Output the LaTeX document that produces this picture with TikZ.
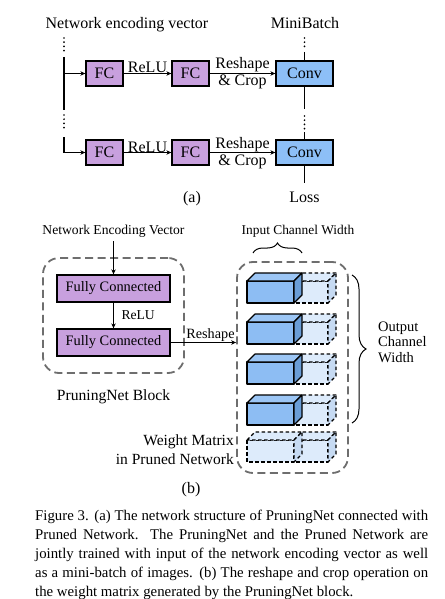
\documentclass[tikz,border=0pt]{standalone}
\usepackage{fontspec}
\setmainfont{Liberation Serif}
\usetikzlibrary{arrows.meta,decorations.pathreplacing}
\definecolor{fcpurple}{HTML}{C8A0DE}
\definecolor{convblue}{HTML}{8DBFF7}
\definecolor{cubefront}{HTML}{8DBDF3}
\definecolor{cubetop}{HTML}{9CC6F5}
\definecolor{cubeside}{HTML}{6A9DD6}
\definecolor{ghost}{HTML}{DDEBFB}
\definecolor{ghostside}{HTML}{C6DAF2}
\definecolor{dashgray}{HTML}{6E6E6E}
\newcommand\fs[1]{\fontsize{#1}{#1}\selectfont}
\newcommand\ghostpart[3]{% x-left, x-right, top y of front face
  \filldraw[ghostline, fill=ghost] (#1,#3) rectangle (#2,#3+22);
  \filldraw[ghostline, fill=ghost] (#1,#3) -- (#1+8,#3-8) -- (#2+8,#3-8) -- (#2,#3) -- cycle;
  \filldraw[ghostline, fill=ghostside] (#2,#3) -- (#2+8,#3-8) -- (#2+8,#3+14) -- (#2,#3+22) -- cycle;
}
\newcommand\solidpart[1]{%
  \filldraw[solidline, fill=cubefront] (247,#1) rectangle (294,#1+22);
  \filldraw[solidline, fill=cubetop] (247,#1) -- (255,#1-8) -- (302,#1-8) -- (294,#1) -- cycle;
  \filldraw[solidline, fill=cubeside] (294,#1) -- (302,#1-8) -- (302,#1+14) -- (294,#1+22) -- cycle;
}
\begin{document}
\begin{tikzpicture}[x=1pt,y=-1pt,
  lbl/.style={inner sep=0, font=\fs{16}},
  fcbox/.style={draw, line width=1.3, fill=fcpurple, minimum width=37, minimum height=25, inner sep=0, font=\fs{16}},
  convbox/.style={fcbox, fill=convblue, minimum width=57},
  fcwide/.style={fcbox, minimum width=113, minimum height=27, font=\fs{14.4}},
  arr/.style={line width=1.1, -{Stealth[length=5,width=4.5]}},
  conn/.style={line width=1.1},
  dots/.style={line width=1.9, line cap=round, dash pattern=on 0 off 4.2},
  block/.style={draw=dashgray, line width=1.8, dash pattern=on 8 off 4.5, rounded corners=16, minimum width=#1},
  block/.default=10,
  solidline/.style={line width=1.2, line join=round},
  ghostline/.style={line width=1.1, dash pattern=on 3.5 off 2.5, line join=round},
  brc/.style={decorate, line width=1, decoration={brace, amplitude=#1}}
]
\fill[white] (0,0) rectangle (444,599);
\useasboundingbox (0,0) rectangle (444,599);

% ---------------- (a) ----------------
\node[lbl, anchor=base] (nev) at (127,29) {Network encoding vector};
\node[lbl, anchor=base] (mb) at (305,29) {MiniBatch};
\node[fcbox] (fa1) at (104.5,73.5) {FC};
\node[fcbox] (fa2) at (190.5,73.5) {FC};
\node[convbox] (ca) at (304.5,73.5) {Conv};
\node[fcbox] (fb1) at (104.5,152.5) {FC};
\node[fcbox] (fb2) at (190.5,152.5) {FC};
\node[convbox] (cb) at (304.5,152.5) {Conv};
\node[lbl, anchor=base] (loss) at (304.5,202) {Loss};
\node[lbl, anchor=base] (la) at (192,202) {(a)};
\coordinate (spine) at (64,0);

\draw[dots] (64,38) -- (64,52);
\draw[conn] (64,57) -- (64,110);
\draw[arr] (fa1.west -| spine) -- (fa1.west);
\draw[dots] (64,115) -- (64,130);
\draw[arr] (64,137) |- (fb1.west);

\draw[dots] (304.5,38) -- (304.5,50);
\draw[conn] (304.5,52) -- (ca.north);
\draw[conn] (ca.south) -- (304.5,109);
\draw[dots] (304.5,116) -- (304.5,131);
\draw[conn] (304.5,132) -- (cb.north);
\draw[conn] (cb.south) -- (304.5,183);

\draw[arr] (fa1) -- (fa2) node[lbl, pos=.5, anchor=base, yshift=0.5] {ReLU};
\draw[arr] (fb1) -- (fb2) node[lbl, pos=.5, anchor=base, yshift=0.5] {ReLU};
\draw[arr] (fa2) -- (ca)
  node[lbl, pos=.5, anchor=base, yshift=4.5] {Reshape}
  node[lbl, pos=.5, anchor=base, yshift=-12.5] {\& Crop};
\draw[arr] (fb2) -- (cb)
  node[lbl, pos=.5, anchor=base, yshift=4.5] {Reshape}
  node[lbl, pos=.5, anchor=base, yshift=-12.5] {\& Crop};

% ---------------- (b) ----------------
\node[lbl, anchor=base, font=\fs{13.6}] (nevb) at (113.5,234) {Network Encoding Vector};
\node[fcwide] (p1) at (113.5,288.5) {Fully Connected};
\node[fcwide] (p2) at (113.5,342.5) {Fully Connected};
\node[block=141, minimum height=115] (pnb) at (113.5,315.5) {};
\node[lbl, anchor=base, font=\fs{15.6}] (pnl) at (113.5,400) {PruningNet Block};
\draw[arr] ([yshift=-4pt]nevb.south -| p1.north) -- (p1.north);
\draw[arr] (p1) -- (p2) node[lbl, pos=.5, anchor=west, xshift=7.5, font=\fs{13.6}] {ReLU};

\node[block=111, minimum height=211] (wm) at (292.5,367.5) {};
\draw[arr] (p2.east) -- (p2.east -| wm.west)
  node[lbl, pos=1, anchor=base east, yshift=4.5, xshift=-1, font=\fs{14.2}] {Reshape};

\node[lbl, anchor=base, font=\fs{13.4}] (icw) at (298,234) {Input Channel Width};
\draw[brc=10] (253,253) -- (302,253);
\draw[brc=14] (352,275) -- (352,423);
\node[lbl, anchor=west, align=left, font=\fontsize{14.5}{15.5}\selectfont] (ocw) at (378,342) {Output\\Channel\\Width};

% cubes
\ghostpart{294}{328}{281}\solidpart{281}
\ghostpart{294}{328}{322}\solidpart{322}
\ghostpart{294}{328}{362}\solidpart{362}
\ghostpart{294}{328}{403}\solidpart{403}
\ghostpart{294}{328}{440}\ghostpart{247}{294}{440}

\node[lbl, anchor=east, align=right, font=\fontsize{15.5}{19}\selectfont] (wml) at (234,450) {Weight Matrix\\in Pruned Network};
\node[lbl, anchor=base] (lb) at (191,493) {(b)};

% ---------------- caption ----------------
\node[anchor=north west, inner sep=0, text width=393, align=justify,
  font=\fontsize{14.8}{19}\selectfont] (cap) at (35,510)
  {\hyphenpenalty=10000 Figure 3. (a) The network structure of PruningNet connected with Pruned Network.  The PruningNet and the Pruned Network are jointly trained with input of the network encoding vector as well as a mini-batch of images. (b) The reshape and crop operation on the weight matrix generated by the PruningNet block.};
\end{tikzpicture}
\end{document}
